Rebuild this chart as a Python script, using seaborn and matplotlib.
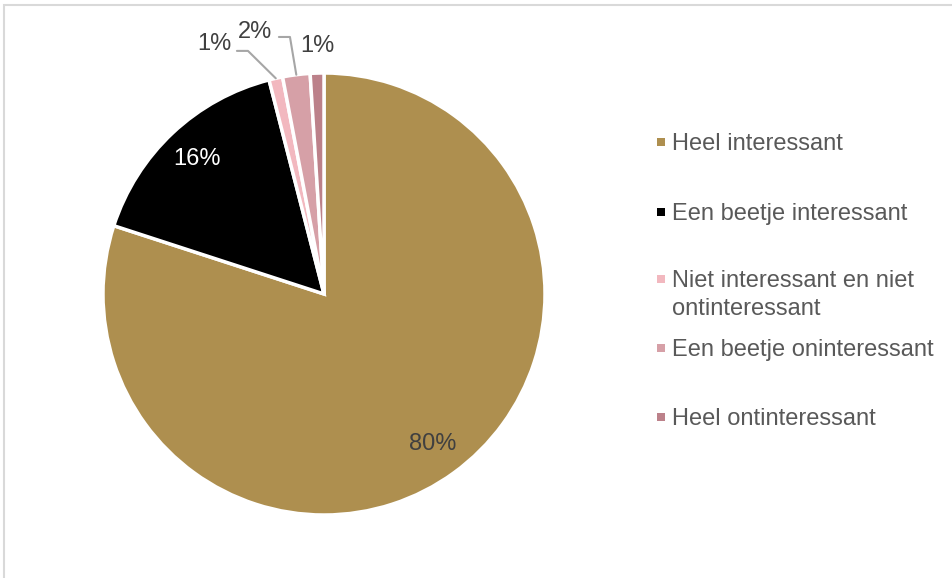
import numpy as np
import matplotlib
matplotlib.use("Agg")
import matplotlib.pyplot as plt
from matplotlib.patches import Rectangle
import seaborn as sns

# data
labels = ["Heel interessant", "Een beetje interessant",
          "Niet interessant en niet\nontinteressant", "Een beetje oninteressant",
          "Heel ontinteressant"]
values = [80, 16, 1, 2, 1]
colors = ["#AE8F4F", "#000000", "#F2B8BF", "#D6A0A7", "#BC818A"]

sns.set_style("white")
plt.rcParams['font.family'] = ['Liberation Sans', 'DejaVu Sans']

W, H = 953, 578
fig = plt.figure(figsize=(W / 100, H / 100), dpi=100)

# pie axes: centre (324,294) px, radius 221 px
cx, cy, r = 324, 294, 221
ax = fig.add_axes([(cx - r) / W, (H - cy - r) / H, 2 * r / W, 2 * r / H])
wedges, _ = ax.pie(values, colors=colors, startangle=90, counterclock=False,
                   radius=1, wedgeprops={'edgecolor': 'white', 'linewidth': 2.5})
ax.set_xlim(-1, 1)
ax.set_ylim(-1, 1)
ax.axis('off')

txt_dark = "#404040"
pct = [f"{v}%" for v in values]

# inside labels
for i, col in [(0, txt_dark), (1, "white")]:
    w = wedges[i]
    ang = np.deg2rad((w.theta1 + w.theta2) / 2)
    ax.text(0.84 * np.cos(ang), 0.84 * np.sin(ang), pct[i], ha='center', va='center',
            fontsize=17, color=col)

# outside labels for small slices (text pos, leader start, elbow)
outside = {2: ((-0.498, 1.129), (-0.394, 1.10), (-0.344, 1.10)),
           3: ((-0.310, 1.186), (-0.204, 1.163), (-0.154, 1.163)),
           4: ((-0.029, 1.122), None, None)}
for i, (tpos, start, elbow) in outside.items():
    ax.text(tpos[0], tpos[1], pct[i], ha='center', va='center', fontsize=17,
            color=txt_dark, clip_on=False)
    if start is not None:
        w = wedges[i]
        ang = np.deg2rad((w.theta1 + w.theta2) / 2)
        ex, ey = np.cos(ang) * 1.0, np.sin(ang) * 1.0
        ax.plot([start[0], elbow[0], ex], [start[1], elbow[1], ey],
                color="#A6A6A6", lw=1.5, clip_on=False)

# legend drawn by hand to follow the reference spacing
baselines = [150, 220, 287, 356, 425]
leg_col = "#595959"
for lab, col, base in zip(labels, colors, baselines):
    fig.add_artist(Rectangle((657 / W, 1 - (base - 4) / H), 8 / W, 8 / H,
                             transform=fig.transFigure, color=col, lw=0))
    for k, line in enumerate(lab.split("\n")):
        fig.text(672 / W, 1 - (base + 28 * k) / H, line, ha='left', va='baseline',
                 fontsize=17, color=leg_col)

# chart border
fig.add_artist(Rectangle((4 / W, -0.01), 1.0, 1 - 5 / H + 0.01, transform=fig.transFigure,
                         fill=False, edgecolor="#D9D9D9", lw=1.5))

fig.savefig("out.png", dpi=100)
